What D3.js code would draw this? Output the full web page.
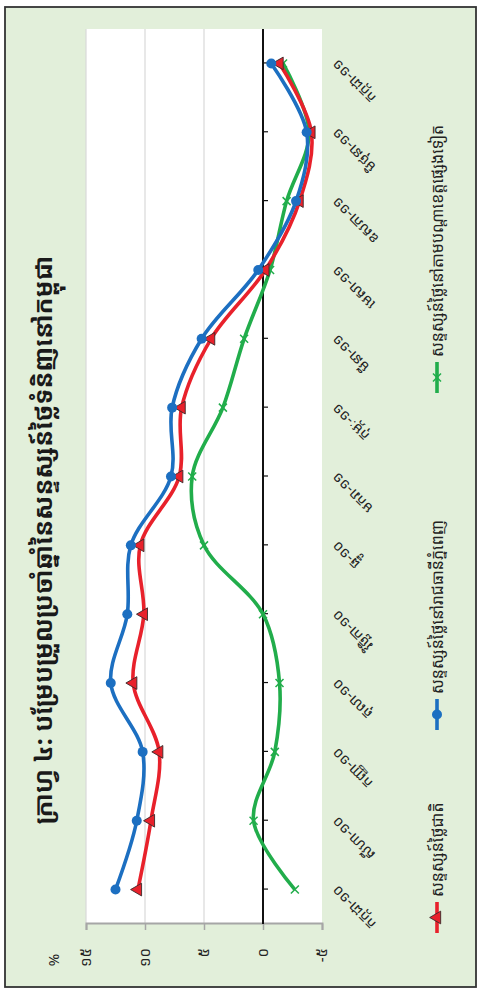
<!DOCTYPE html>
<html>
<head>
<meta charset="utf-8">
<script src="https://cdn.jsdelivr.net/npm/d3@7"></script>
<style>
  html, body { margin: 0; padding: 0; background: #ffffff; }
  svg { display: block; }
  text { font-family: "Noto Sans Khmer", "Khmer OS", "Khmer OS System", "Noto Sans", "DejaVu Sans", sans-serif; }
</style>
</head>
<body>
<svg id="chart" width="477" height="988"></svg>
<script>
// ---- data ----
const categories = ["កក្កដា-១០", "សីហា-១០", "កញ្ញា-១០", "តុលា-១០", "វិច្ឆិកា-១០", "ធ្នូ-១០",
                    "មករា-១១", "កុម្ភៈ-១១", "មីនា-១១", "មេសា-១១", "ឧសភា-១១", "មិថុនា-១១", "កក្កដា-១១"];
const nationalValues   = [10.6, 9.5, 8.8, 11.0, 10.1, 10.4, 7.1, 6.9, 4.4, -0.2, -3.1, -4.1, -1.4];
const phnomPenhValues  = [12.5, 10.7, 10.2, 12.9, 11.5, 11.2, 7.8, 7.7, 5.2, 0.4, -2.8, -3.7, -0.7];
const provinceValues   = [-2.7, 0.8, -1.0, -1.4, 0.0, 5.0, 6.0, 3.4, 1.6, -0.6, -2.0, -3.9, -1.7];
const seriesNames = ["សន្ទស្សន៍ថ្លៃជាតិ", "សន្ទស្សន៍ថ្លៃនៅរាជធានីភ្នំពេញ", "សន្ទស្សន៍ថ្លៃនៅតាមបណ្តាខេត្តផ្សេងទៀត"];
const yTickValues = [-5, 0, 5, 10, 15];
const yTickLabels = ["-៥", "០", "៥", "១០", "១៥"];
const titleText = "ក្រាហ្វ ៤: បម្រែបម្រួលប្រចាំឆ្នាំនៃសន្ទស្សន៍ថ្លៃទំនិញនៅកម្ពុជា";
const unitLabel = "%";

// ---- layout (chart drawn unrotated, then turned -90deg) ----
const W = 988, H = 477;
const plot = {x0: 64, x1: 959, y0: 86, y1: 322};
const colors = {nat: "#e8212b", pp: "#1c6fc1", prov: "#21ad4b"};

const svg = d3.select("#chart");
const g = svg.append("g").attr("transform", `translate(0,${W}) rotate(-90)`);

// frame
g.append("rect").attr("x", 1).attr("y", 5).attr("width", 980).attr("height", 471)
  .attr("fill", "#e2efda").attr("stroke", "#333333").attr("stroke-width", 1.8);

// plot area
g.append("rect").attr("x", plot.x0).attr("y", plot.y0)
  .attr("width", plot.x1 - plot.x0).attr("height", plot.y1 - plot.y0).attr("fill", "#ffffff");

const x = d3.scalePoint().domain(categories).range([plot.x0, plot.x1]).padding(0.5);
const y = d3.scaleLinear().domain([-5, 15]).range([plot.y1, plot.y0]);

// gridlines
g.append("g").selectAll("line").data([5, 10, 15]).join("line")
  .attr("x1", plot.x0).attr("x2", plot.x1)
  .attr("y1", d => y(d)).attr("y2", d => y(d))
  .attr("stroke", "#d9d9d9").attr("stroke-width", 1.2);

// value axis (left in unrotated frame)
const yAxis = d3.axisLeft(y).tickValues(yTickValues).tickSize(6)
  .tickFormat((d, i) => yTickLabels[i]);
const yAxisG = g.append("g").attr("transform", `translate(${plot.x0},0)`).call(yAxis);
yAxisG.select(".domain").attr("stroke", "#a6a6a6").attr("stroke-width", 2);
yAxisG.selectAll(".tick line").attr("stroke", "#a6a6a6").attr("stroke-width", 1.5);
yAxisG.selectAll(".tick text").attr("x", -24).attr("font-size", 15).attr("fill", "#222");

g.append("text").attr("x", 28).attr("y", 53).attr("text-anchor", "middle")
  .attr("dominant-baseline", "central").attr("font-size", 15).attr("fill", "#222").text(unitLabel);

// category axis at zero
const xAxis = d3.axisBottom(x).tickSize(5).tickFormat("");
const xAxisG = g.append("g").attr("transform", `translate(0,${y(0)})`).call(xAxis);
xAxisG.select(".domain").attr("d", `M${plot.x0},0H${plot.x1}`).attr("stroke", "#111").attr("stroke-width", 2);
xAxisG.selectAll(".tick line").attr("stroke", "#111").attr("stroke-width", 1.2);

// category labels (rotated -45, below plot)
g.append("g").selectAll("text").data(categories).join("text")
  .attr("transform", d => `translate(${x(d) + 5},${plot.y1 + 16}) rotate(-45)`)
  .attr("text-anchor", "end").attr("font-size", 14.5).attr("fill", "#222").text(d => d);

// lines
const line = d3.line().x((d, i) => x(categories[i])).y(d => y(d)).curve(d3.curveCatmullRom.alpha(0.5));
const series = [
  {key: "prov", values: provinceValues, color: colors.prov},
  {key: "nat", values: nationalValues, color: colors.nat},
  {key: "pp", values: phnomPenhValues, color: colors.pp}
];
series.forEach(s => {
  g.append("path").datum(s.values).attr("d", line).attr("fill", "none")
    .attr("stroke", s.color).attr("stroke-width", 3.6).attr("stroke-linejoin", "round");
});

// markers
const triSym = d3.symbol().type(d3.symbolTriangle).size(70);
function drawTri(sel, cx, cy) {
  sel.append("path").attr("d", triSym()).attr("transform", `translate(${cx},${cy})`)
    .attr("fill", colors.nat).attr("stroke", "#3a2a2a").attr("stroke-width", 0.9);
}
function drawCircle(sel, cx, cy) {
  sel.append("circle").attr("cx", cx).attr("cy", cy).attr("r", 5).attr("fill", colors.pp);
}
function drawX(sel, cx, cy) {
  const s = 4;
  sel.append("path").attr("d", `M${cx - s},${cy - s}L${cx + s},${cy + s}M${cx - s},${cy + s}L${cx + s},${cy - s}`)
    .attr("stroke", colors.prov).attr("stroke-width", 1.5).attr("fill", "none");
}
const mk = g.append("g");
provinceValues.forEach((v, i) => drawX(mk, x(categories[i]), y(v)));
nationalValues.forEach((v, i) => drawTri(mk, x(categories[i]), y(v)));
phnomPenhValues.forEach((v, i) => drawCircle(mk, x(categories[i]), y(v)));

// legend
const ly = 437;
const leg = g.append("g");
const legendItems = [
  {x0: 55, name: seriesNames[0], color: colors.nat, m: drawTri},
  {x0: 258, name: seriesNames[1], color: colors.pp, m: drawCircle},
  {x0: 595, name: seriesNames[2], color: colors.prov, m: drawX}
];
legendItems.forEach(it => {
  leg.append("line").attr("x1", it.x0).attr("x2", it.x0 + 31).attr("y1", ly).attr("y2", ly)
    .attr("stroke", it.color).attr("stroke-width", 3.6);
  it.m(leg, it.x0 + 15.5, ly);
  leg.append("text").attr("x", it.x0 + 36).attr("y", ly).attr("dominant-baseline", "central")
    .attr("font-size", 16).attr("fill", "#222").text(it.name);
});

// title
g.append("text").attr("x", 448).attr("y", 42).attr("text-anchor", "middle")
  .attr("dominant-baseline", "central").attr("font-size", 25).attr("font-weight", "bold")
  .attr("fill", "#1a1a1a").text(titleText);
</script>
</body>
</html>
